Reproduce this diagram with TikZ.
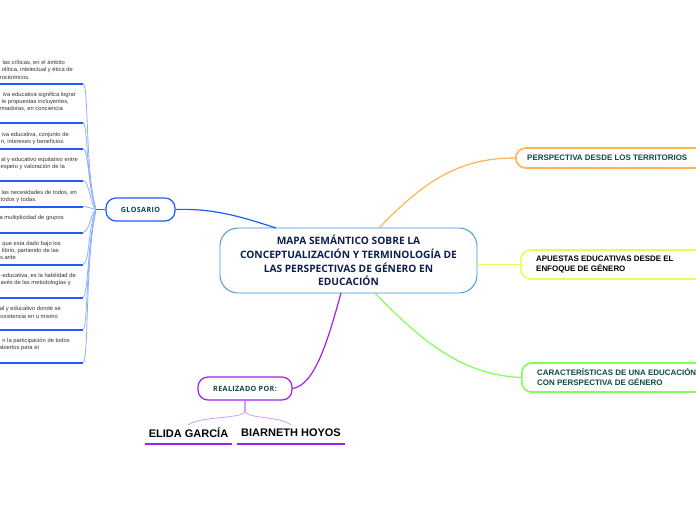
\documentclass[tikz,border=0pt]{standalone}
\usepackage{fontspec}
\setmainfont{Liberation Sans}
\newfontfamily\opensans{Open Sans}
\newfontfamily\titlefont[LetterSpace=5]{Open Sans}
\definecolor{mainblue}{HTML}{3F93D6}
\definecolor{navy}{HTML}{0E1F4D}
\definecolor{teal}{HTML}{0E4A44}
\definecolor{linkblue}{HTML}{1F5CFF}
\definecolor{paleblue}{HTML}{8FB0FF}
\definecolor{orangeline}{HTML}{FFB44F}
\definecolor{yellowline}{HTML}{E2FF55}
\definecolor{greenline}{HTML}{7FFF55}
\definecolor{purpleline}{HTML}{A020F0}
\definecolor{palepurple}{HTML}{D49CF8}
\definecolor{leafgrey}{HTML}{333333}
\tikzset{
  leaftext/.style={anchor=east,inner sep=0pt,text=leafgrey,font=\fontsize{5.8}{6.5}\selectfont},
  leaflink/.style={draw=paleblue,line width=0.8pt},
  mainbox/.style={draw=mainblue,line width=0.9pt,rounded corners=18pt,fill=white,minimum width=257pt,minimum height=65pt,inner sep=0pt,align=center,text=navy,font=\opensans\bfseries\fontsize{10.2}{13.7}\selectfont},
  branch/.style={line width=1.6pt,rounded corners=10pt,fill=white,inner sep=0pt},
  branchtext/.style={anchor=west,inner sep=0pt,align=left,font=\bfseries\fontsize{7.95}{9.6}\selectfont},
  smalltitle/.style={font=\titlefont\bfseries\fontsize{7.2}{8}\selectfont,text=teal},
  person/.style={inner sep=0pt,font=\bfseries\fontsize{11}{12}\selectfont,text=black},
  baseblue/.style={draw=linkblue,line width=2pt,line cap=butt},
  basepurple/.style={draw=purpleline,line width=2pt,line cap=butt},
}
\begin{document}
\begin{tikzpicture}[x=1pt,y=-1pt]
\useasboundingbox (0,0) rectangle (696,520);
\clip (0,0) rectangle (696,520);

% central node
\node[mainbox] (main) at (348.5,260.5) {MAPA SEMÁNTICO SOBRE LA\\CONCEPTUALIZACIÓN Y TERMINOLOGÍA DE\\LAS PERSPECTIVAS DE GÉNERO EN\\EDUCACIÓN};

% right branches
\node[branch,draw=orangeline,minimum width=190pt,minimum height=20pt,anchor=west] (persp) at (515,158) {};
\node[branchtext,text=teal] (persptext) at (527,158) {PERSPECTIVA DESDE LOS TERRITORIOS};
\node[branch,draw=yellowline,minimum width=190pt,minimum height=29pt,anchor=west] (apuestas) at (520,264.5) {};
\node[branchtext,text=black] (apuestastext) at (536,264.5) {APUESTAS EDUCATIVAS DESDE EL\\ENFOQUE DE GÉNERO};
\node[branch,draw=greenline,minimum width=190pt,minimum height=29pt,anchor=west] (carac) at (521,377.5) {};
\node[branchtext,text=teal] (caractext) at (537,377) {CARACTERÍSTICAS DE UNA EDUCACIÓN\\CON PERSPECTIVA DE GÉNERO};

\coordinate (mo) at (379,228);
\coordinate (mg) at (375,293);
\coordinate (mp) at (341,293);
\coordinate (mb) at (276,228);
\draw[orangeline,line width=1.2pt] (mo) .. controls (425,180) and (460,158) .. (persp.west);
\draw[yellowline,line width=1.2pt] (main.east |- apuestas.west) -- (apuestas.west);
\draw[greenline,line width=1.2pt] (mg) .. controls (425,345) and (465,375) .. (carac.west);

% glosario
\node[branch,draw=linkblue,line width=1.2pt,minimum width=69pt,minimum height=23pt,smalltitle] (glos) at (140.5,209.5) {GLOSARIO};
\draw[linkblue,line width=1.2pt] (glos.east) .. controls (215,208) and (245,218) .. (mb);
\coordinate (hub) at (96,209.5);
\draw[linkblue,line width=1.8pt] (hub) -- (glos.west);

% realizado
\node[branch,draw=purpleline,line width=1.2pt,minimum width=94pt,minimum height=23pt,smalltitle] (real) at (245,388.5) {REALIZADO POR:};
\draw[purpleline,line width=1.2pt] (mp) .. controls (328,340) and (315,385) .. (real.east);
\coordinate (fork) at (245,412);
\draw[palepurple,line width=1.4pt] (real.south) -- (fork);
\node[person] (elida) at (188.5,433) {ELIDA GARCÍA};
\node[person] (biar) at (291,433) {BIARNETH HOYOS};
\coordinate (ea) at (145,443.5); \coordinate (eb) at (232,443.5);
\coordinate (ba) at (237,443.5); \coordinate (bb) at (345,443.5);
\path[basepurple] (ea) -- (eb);
\path[basepurple] (ba) -- (bb);
\draw[palepurple,line width=0.8pt] (fork) .. controls (240,419) and (200,416) .. (188,425);
\draw[palepurple,line width=0.8pt] (fork) .. controls (250,419) and (280,416) .. (291,425);

% glossary leaves
\foreach \n/\y in {1/83.5,2/122.5,3/148.5,4/180.5,5/206.5,6/232.5,7/264.5,8/297.5,9/329.5,10/362.5}{
  \coordinate (l\n) at (83,\y);
  \coordinate (s\n) at (0,\y);
  \path[baseblue] (s\n) -- (l\n);
}
\draw[leaflink] (l1) .. controls (89,85) and (85,170) .. (hub);
\draw[leaflink] (l2) .. controls (88,124) and (86,180) .. (hub);
\draw[leaflink] (l3) .. controls (89,150) and (88,190) .. (hub);
\draw[leaflink] (l4) .. controls (90,182) and (90,205) .. (hub);
\draw[leaflink] (l5) .. controls (88,206.5) and (92,209) .. (hub);
\draw[leaflink] (l6) .. controls (90,231) and (90,214) .. (hub);
\draw[leaflink] (l7) .. controls (90,263) and (88,225) .. (hub);
\draw[leaflink] (l8) .. controls (88,296) and (88,240) .. (hub);
\draw[leaflink] (l9) .. controls (88,328) and (86,250) .. (hub);
\draw[leaflink] (l10) .. controls (89,361) and (85,260) .. (hub);

\node[leaftext] (t1a) at (65,63) {las críticas, en el ámbito};
\node[leaftext] (t1b) at (73,70) {olítica, intelectual y ética de};
\node[leaftext] (t1c) at (30,77) {rocéntricos.};
\node[leaftext] (t2a) at (76,95) {iva educativa significa lograr};
\node[leaftext] (t2b) at (69,102) {le propuestas incluyentes,};
\node[leaftext] (t2c) at (63,109) {rmadoras, en conciencia};
\node[leaftext] (t3a) at (69,135) {iva educativa, conjunto de};
\node[leaftext] (t3b) at (65,142) {n, intereses y beneficios.};
\node[leaftext] (t4a) at (78,160) {al y educativo equitativo entre};
\node[leaftext] (t4b) at (65,167) {espeto y valoración de la};
\node[leaftext] (t5a) at (77,193) {las necesidades de todos, en};
\node[leaftext] (t5b) at (37,200) {todos y todas.};
\node[leaftext] (t6a) at (64,218) {a multiplicidad de grupos};
\node[leaftext] (t7a) at (61,244) {que esta dado bajo los};
\node[leaftext] (t7b) at (59,251) {librio, partiendo de las};
\node[leaftext] (t7c) at (16,258) {s.ante};
\node[leaftext] (t8a) at (76,276) {-educativa, es la habilidad de};
\node[leaftext] (t8b) at (71,283) {avés de las metodologías y};
\node[leaftext] (t9a) at (61,309) {al y educativo donde se};
\node[leaftext] (t9b) at (58,316) {oxistencia en u mismo};
\node[leaftext] (t10a) at (70,341) {n la participación de todos};
\node[leaftext] (t10b) at (39,348) {abiertos para el};
\end{tikzpicture}
\end{document}
